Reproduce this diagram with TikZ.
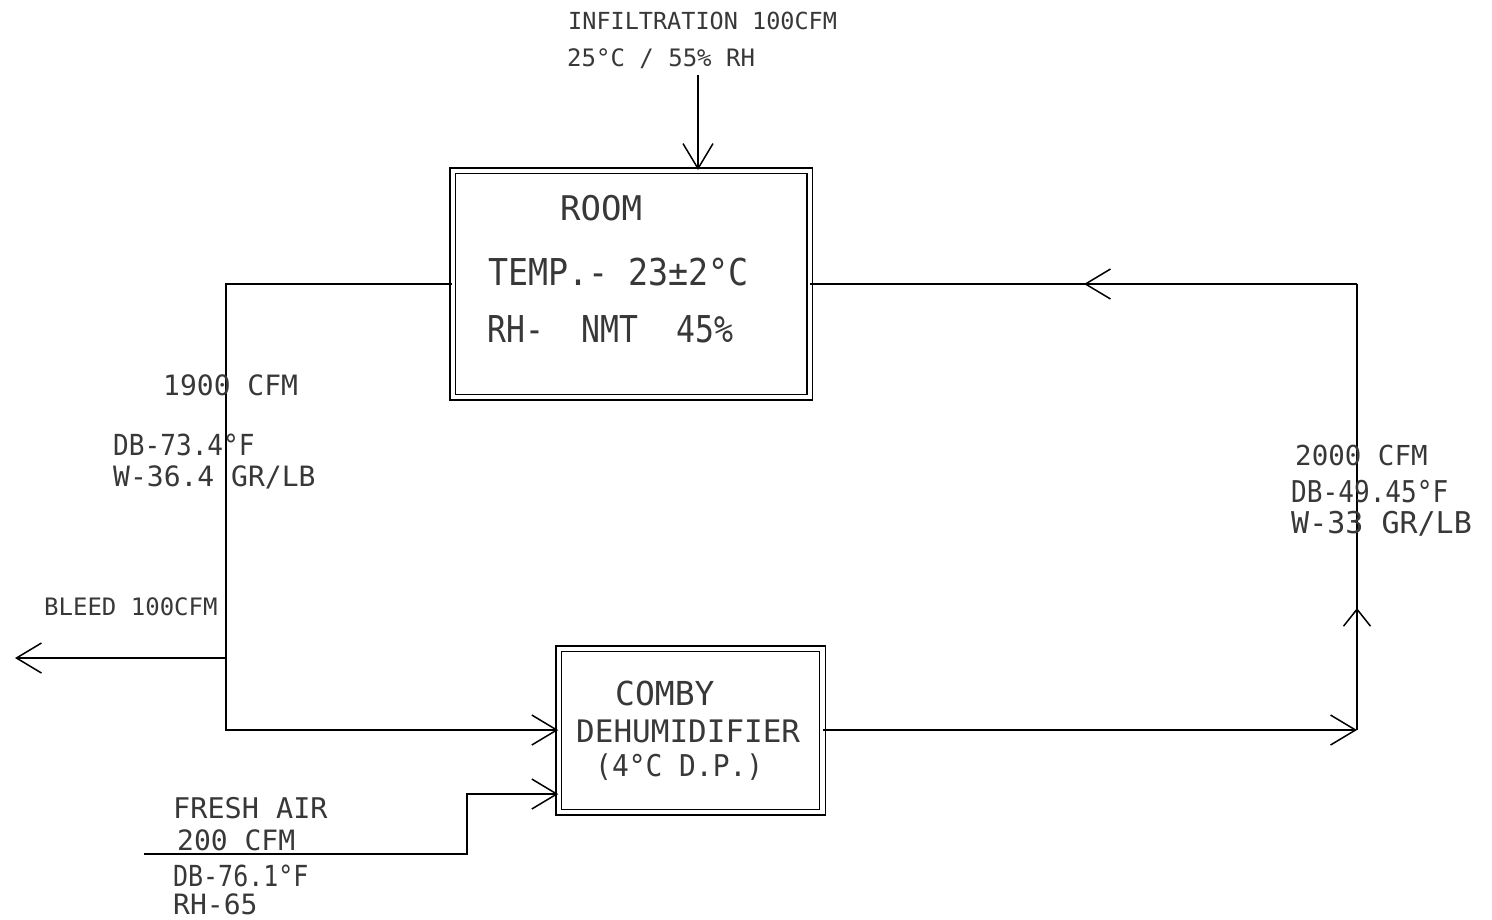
\documentclass[tikz,border=0pt]{standalone}
\usepackage{fontspec}
\newfontfamily\cad{DejaVu Sans Mono}
\usetikzlibrary{arrows.meta,decorations.markings}
\tikzset{
  flow/.style={line width=1.5pt, black},
  barb/.style={-{Straight Barb[length=25pt,width=30pt,line width=1.5pt]}},
  dbox/.style={draw, rectangle, double, double distance=4.2pt, line width=1.4pt, inner sep=0pt},
  lbl/.style={anchor=base west, inner sep=0pt, text=black!78, font=\cad\fontsize{#1}{#1}\selectfont},
}
\begin{document}
\begin{tikzpicture}[x=1pt,y=-1pt]
\useasboundingbox (0,0) rectangle (1492,919);
\fill[white] (0,0) rectangle (1492,919);

% boxes
\node[dbox, minimum width=357pt, minimum height=226.5pt] (room) at (631.1,284) {};
\node[dbox, minimum width=263.5pt, minimum height=163.5pt] (dehum) at (690.7,730.5) {};

% coordinates
\coordinate (inf) at (698,75);
\coordinate (lt) at (226,284);
\coordinate (lb) at (226,730);
\coordinate (bj) at (226,658);
\coordinate (be) at (15,658);
\coordinate (rt) at (1357,284);
\coordinate (rb) at (1357,730);
\coordinate (fa0) at (144,854);
\coordinate (fa1) at (467,854);
\coordinate (fa2) at (467,794);

% connectors
\draw[flow,barb] (inf) -- (inf |- room.north);
\draw[flow,barb] (room.west) -- (lt) -- (lb) -- (lb -| dehum.west);
\draw[flow,barb] (bj) -- (be);
\draw[flow,barb] (fa0) -- (fa1) -- (fa2) -- (fa2 -| dehum.west);
\draw[flow,barb] (dehum.east |- rb) -- (rb);
\draw[flow, postaction={decorate}, decoration={markings,
   mark=at position 122pt with {\arrow{Straight Barb[length=17pt,width=27pt,line width=1.5pt]}}}]
   (rb) -- (rt);
\draw[flow, postaction={decorate}, decoration={markings,
   mark=at position 273pt with {\arrow{Straight Barb[length=25pt,width=30pt,line width=1.5pt]}}}]
   (rt) -- (room.east);

% labels
\node[lbl=23.5] (t1) at (568,29) {INFILTRATION 100CFM};
\node[lbl=24] (t2) at (567,66) {25°C / 55\% RH};
\node[lbl=34] (t3) at (560,220) {ROOM};
\node[lbl=37] (t4) at (488,285) {\scalebox{0.9}[1]{TEMP.- 23±2°C}};
\node[lbl=37] (t5) at (487,342) {\scalebox{0.85}[1]{RH-~~NMT~~45\%}};
\node[lbl=28] (t6) at (163,395) {1900 CFM};
\node[lbl=29] (t7) at (113,455) {\scalebox{0.9}[1]{DB-73.4°F}};
\node[lbl=28] (t8) at (113,486) {W-36.4 GR/LB};
\node[lbl=24] (t9) at (44,615) {BLEED 100CFM};
\node[lbl=27.5] (t10) at (1295,465) {2000 CFM};
\node[lbl=30] (t11) at (1291,502) {\scalebox{0.87}[1]{DB-49.45°F}};
\node[lbl=30] (t12) at (1291,533) {W-33 GR/LB};
\node[lbl=33] (t13) at (615,705) {COMBY};
\node[lbl=31] (t14) at (576,742) {DEHUMIDIFIER};
\node[lbl=30] (t15) at (595,776) {\scalebox{0.93}[1]{(4°C D.P.)}};
\node[lbl=28.5] (t16) at (173,818) {FRESH AIR};
\node[lbl=28] (t17) at (177,850) {200 CFM};
\node[lbl=29] (t18) at (173,886) {\scalebox{0.86}[1]{DB-76.1°F}};
\node[lbl=28] (t19) at (173,914) {RH-65};
\end{tikzpicture}
\end{document}
